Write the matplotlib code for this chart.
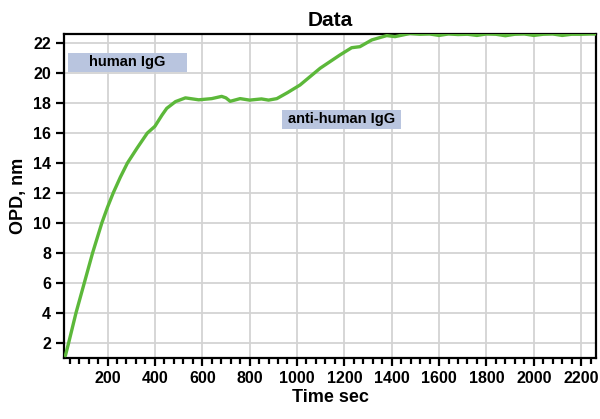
import matplotlib.pyplot as plt
from matplotlib.patches import Rectangle
from matplotlib.ticker import MultipleLocator

plt.rcParams['font.family'] = ['Liberation Sans', 'DejaVu Sans']
plt.rcParams['font.weight'] = 'bold'

time_sec = [22, 36, 67, 102, 137, 176, 200, 224, 254, 284, 325, 368, 400, 430,
            450, 487, 529, 585, 640, 682, 700, 718, 760, 800, 850, 880, 915,
            960, 1013, 1098, 1182, 1231, 1266, 1316, 1379, 1414, 1477, 1520,
            1560, 1600, 1640, 1680, 1720, 1760, 1800, 1840, 1880, 1920, 1960,
            2000, 2040, 2080, 2120, 2160, 2200, 2240, 2263]
opd_nm = [1.13, 2.0, 4.0, 6.0, 8.0, 10.0, 11.05, 12.0, 13.05, 14.0, 15.0, 16.0,
          16.45, 17.2, 17.65, 18.1, 18.35, 18.22, 18.3, 18.45, 18.35, 18.12,
          18.3, 18.2, 18.28, 18.2, 18.3, 18.7, 19.21, 20.33, 21.22, 21.7,
          21.77, 22.22, 22.51, 22.44, 22.65, 22.6, 22.62, 22.52, 22.62, 22.58,
          22.6, 22.52, 22.62, 22.6, 22.5, 22.6, 22.62, 22.52, 22.6, 22.62,
          22.52, 22.6, 22.6, 22.62, 22.62]

labels = ['human IgG', 'anti-human IgG']
label_x = [34, 937]
label_w = [502, 503]
label_y = [20.08, 16.28]
label_h = [1.27, 1.27]

fig = plt.figure(figsize=(6, 4.19), dpi=100)
ax = fig.add_axes([0.107, 0.145, 0.886, 0.774])

ax.plot(time_sec, opd_nm, color='#5cb83a', lw=2.4, zorder=3, solid_capstyle='round')

for name, x0, w, y0, h in zip(labels, label_x, label_w, label_y, label_h):
    ax.add_patch(Rectangle((x0, y0), w, h, facecolor='#b9c5df', edgecolor='none', zorder=2))
    ax.text(x0 + w / 2, y0 + h / 2, name, ha='center', va='center',
            fontsize=10.5, fontweight='bold', zorder=4)

ax.set_xlim(17, 2262)
ax.set_ylim(0.96, 22.62)
ax.xaxis.set_major_locator(MultipleLocator(200))
ax.xaxis.set_minor_locator(MultipleLocator(40))
ax.yaxis.set_major_locator(MultipleLocator(2))
ax.grid(True, which='major', color='#d3d3d3', lw=1.3, zorder=0)
ax.set_axisbelow(True)

for s in ax.spines.values():
    s.set_linewidth(1.6)
ax.tick_params(which='major', direction='out', length=6, width=1.6, labelsize=11.5)
ax.tick_params(which='minor', direction='out', length=4, width=1.6)
ax.tick_params(axis='y', which='minor', left=False)

ax.set_xlabel('Time sec', fontsize=13, fontweight='bold', labelpad=2)
ax.set_ylabel('OPD, nm', fontsize=13, fontweight='bold', labelpad=4)
ax.set_title('Data', fontsize=15, fontweight='bold', pad=6)

fig.savefig('out.png', dpi=100)
